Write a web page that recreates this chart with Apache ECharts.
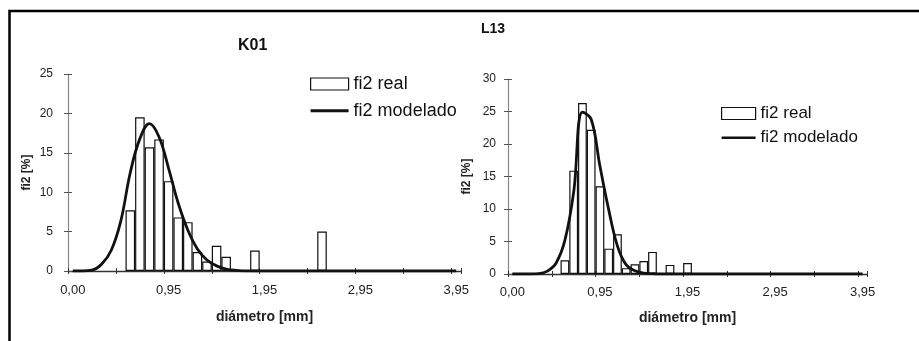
<!DOCTYPE html>
<html>
<head>
<meta charset="utf-8">
<script src="https://cdn.jsdelivr.net/npm/echarts@6/dist/echarts.min.js"></script>
<style>
html,body{margin:0;padding:0;background:#fff;}
#chart{width:919px;height:341px;}
</style>
</head>
<body>
<div id="chart"></div>
<script>
// Diameter classes (mm) - category axis
const categories = ["0,00","0,05","0,15","0,25","0,35","0,45","0,55","0,65","0,75","0,85",
  "0,95","1,05","1,15","1,25","1,35","1,45","1,55","1,65","1,75","1,85",
  "1,95","2,05","2,15","2,25","2,35","2,45","2,55","2,65","2,75","2,85",
  "2,95","3,05","3,15","3,25","3,35","3,45","3,55","3,65","3,75","3,85","3,95"];

// K01
const k01Real = [null,null,null,null,null,null,7.7,19.5,15.7,16.7,
  11.4,6.8,6.2,2.4,1.2,3.2,1.8,null,null,2.6,
  null,null,null,null,null,null,5.0,null,null,null,
  null,null,null,null,null,null,null,null,null,null,null];
const k01Model = [0,0,0.1,0.85,2.6,6.3,12.5,16.8,18.7,17.0,
  13.0,8.6,5.2,2.8,1.4,0.65,0.25,0.08,0.02,0,
  0,0,0,0,0,0,0,0,0,0,
  0,0,0,0,0,0,0,0,0,0,0];

// L13
const l13Real = [null,null,null,null,null,null,2.1,15.9,26.3,22.2,
  13.5,3.9,6.1,0.9,1.5,2.0,3.4,null,1.4,null,
  1.7,null,null,null,null,null,null,null,null,null,
  null,null,null,null,null,null,null,null,null,null,null];
const l13Model = [0,0,0,0.05,0.45,1.7,5.2,12.6,24.9,23.8,
  16.6,9.9,4.3,1.4,0.5,0.15,0.05,0,0,0,
  0,0,0,0,0,0,0,0,0,0,
  0,0,0,0,0,0,0,0,0,0,0];

const titles = ["K01", "L13"];
const yMax = [25, 30];
const seriesNames = ["fi2 real", "fi2 modelado"];
const xName = "diámetro [mm]";
const yName = "fi2 [%]";

const FONT = "Liberation Sans, Arial, sans-serif";
const LINE_ICON = 'path://M0,0 L40,0 L40,3 L0,3 Z';
const chart = echarts.init(document.getElementById('chart'), null, {renderer:'canvas'});

function xAxes(g){
  return [{
    type:'category', gridIndex:g, position:'bottom', data:categories, boundaryGap:true,
    axisLine:{show:true, lineStyle:{color:'#333', width:1.3}},
    axisTick:{show:true, interval:4, length:3, inside:false, lineStyle:{color:'#333'}},
    axisLabel:{interval:9, margin:(g===0?13:12), fontSize:13, color:'#222', fontFamily:FONT},
    splitLine:{show:false},
    name:xName, nameLocation:'middle', nameGap:(g===0?39:37),
    nameTextStyle:{fontWeight:'bold', fontSize:14, color:'#222', fontFamily:FONT}
  },{
    type:'category', gridIndex:g, position:'bottom', data:categories, boundaryGap:true,
    axisLine:{show:false},
    axisTick:{show:true, interval:4, length:3, inside:true, lineStyle:{color:'#333'}},
    axisLabel:{show:false}, splitLine:{show:false}
  }];
}
function yAxes(g){
  return [{
    type:'value', gridIndex:g, position:'left', min:0, max:yMax[g], interval:5,
    axisLine:{show:true, lineStyle:{color:'#888', width:1.2}},
    axisTick:{show:true, length:4, lineStyle:{color:'#555'}},
    axisLabel:{margin:(g===0?15:12), fontSize:12, color:'#222', fontFamily:FONT},
    splitLine:{show:false},
    name:yName, nameLocation:'middle', nameRotate:90, nameGap:35,
    nameTextStyle:{fontWeight:'bold', fontSize:12, color:'#222', fontFamily:FONT}
  },{
    type:'value', gridIndex:g, position:'left', min:0, max:yMax[g], interval:5,
    axisLine:{show:false},
    axisTick:{show:true, inside:true, length:4, lineStyle:{color:'#555'}},
    axisLabel:{show:false}, splitLine:{show:false}
  }];
}

function barSeries(g, name, data){
  return {
    type:'bar', name:name, xAxisIndex:g*2, yAxisIndex:g*2, data:data,
    barCategoryGap:'0%', legendHoverLink:false,
    itemStyle:{color:'#fff', borderColor:'#111', borderWidth:1.2},
    emphasis:{disabled:true}, z:2
  };
}
function lineSeries(g, name, data){
  return {
    type:'line', name:name, xAxisIndex:g*2, yAxisIndex:g*2, data:data,
    smooth:0.4, symbol:'none', showSymbol:false,
    lineStyle:{color:'#111', width:2.8},
    itemStyle:{color:'#111'},
    emphasis:{disabled:true}, z:5
  };
}
function legend(names, left, top, w, gap, fs){
  return {
    orient:'vertical', left:left, top:top, padding:0, itemWidth:w, itemHeight:12, itemGap:gap,
    selectedMode:false, symbolKeepAspect:true,
    data:[
      {name:names[0], icon:'rect', itemStyle:{color:'#fff', borderColor:'#111', borderWidth:1.2}},
      {name:names[1], icon:LINE_ICON, itemStyle:{color:'#111', borderWidth:0}}
    ],
    textStyle:{fontSize:fs, lineHeight:fs, color:'#111', fontFamily:FONT}
  };
}

const namesR = seriesNames.map(s => s + ' ');

const option = {
  backgroundColor:'#fff',
  animation:false,
  title:[
    {text:titles[0], left:233, top:33, textStyle:{fontSize:16, fontWeight:'bold', color:'#111', fontFamily:FONT}},
    {text:titles[1], left:476, top:17, textStyle:{fontSize:14, fontWeight:'bold', color:'#111', fontFamily:FONT}}
  ],
  legend:[
    legend(seriesNames, 310, 75, 38, 8.7, 18),
    legend(namesR, 721, 105, 34, 7.3, 17)
  ],
  grid:[
    {left:68, right:458, top:74, bottom:70, containLabel:false},
    {left:508, right:52, top:79, bottom:67, containLabel:false}
  ],
  xAxis:[].concat(xAxes(0), xAxes(1)),
  yAxis:[].concat(yAxes(0), yAxes(1)),
  series:[
    barSeries(0, seriesNames[0], k01Real), lineSeries(0, seriesNames[1], k01Model),
    barSeries(1, namesR[0], l13Real), lineSeries(1, namesR[1], l13Model)
  ],
  graphic:[
    {type:'polyline', shape:{points:[[9.5,341],[9.5,11],[919,11]]},
     style:{stroke:'#000', lineWidth:2.5, fill:null}, silent:true}
  ]
};
chart.setOption(option);
</script>
</body>
</html>
